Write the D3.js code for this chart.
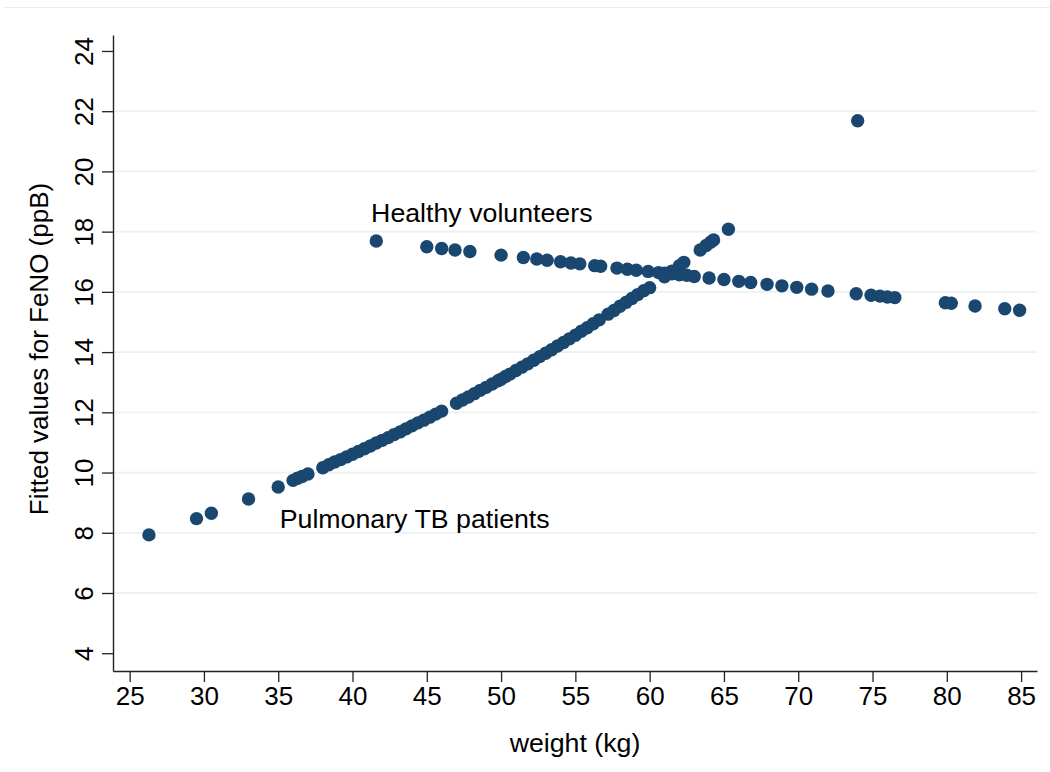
<!DOCTYPE html>
<meta charset="utf-8">
<html>
  <head>
    <style>
      body { margin: 0; background: #fff; }
      text { font-family: "Liberation Sans", Arial, sans-serif; fill: #000; }
    </style>
    <script src="https://d3js.org/d3.v7.min.js"></script>
  </head>
  <body>
<div id="my_dataviz"></div>
<script>

// Fitted FeNO values by weight
var tbWeight = [26.3, 29.5, 30.5, 33, 35, 36, 36.3, 36.6, 37, 38, 38.4, 38.8, 39.2, 39.6, 40, 40.4, 40.8, 41.2, 41.6,
  42, 42.4, 42.8, 43.2, 43.6, 44, 44.4, 44.8, 45.2, 45.6, 46, 47, 47.4, 47.8, 48.2, 48.6, 49, 49.4, 49.8, 50, 50.3,
  50.6, 51, 51.4, 51.8, 52.2, 52.6, 53, 53.4, 53.8, 54.2, 54.6, 55, 55.4, 55.8, 56.2, 56.6, 57.2, 57.6, 58, 58.4,
  58.8, 59.2, 59.6, 60, 61, 61.5, 62, 62.3, 63.4, 63.8, 64.1, 64.3, 65.3, 74]
var tbFeno = [7.93, 8.47, 8.65, 9.12, 9.52, 9.74, 9.81, 9.87, 9.95, 10.16, 10.26, 10.35, 10.43, 10.52, 10.61, 10.70, 10.79, 10.88, 10.98,
  11.07, 11.16, 11.26, 11.35, 11.45, 11.55, 11.65, 11.74, 11.84, 11.94, 12.04, 12.30, 12.41, 12.51, 12.62, 12.73, 12.83, 12.94, 13.05, 13.10, 13.19,
  13.27, 13.39, 13.50, 13.61, 13.73, 13.85, 13.96, 14.08, 14.20, 14.32, 14.44, 14.56, 14.69, 14.81, 14.94, 15.07, 15.26, 15.38, 15.52, 15.65,
  15.78, 15.91, 16.04, 16.14, 16.50, 16.69, 16.87, 16.98, 17.39, 17.54, 17.65, 17.72, 18.08, 21.68]

var hvWeight = [41.6, 45, 46, 46.9, 47.9, 50, 51.5, 52.4, 53.1, 54, 54.7, 55.3, 56.3, 56.7, 57.8, 58.5, 59.1, 59.9,
  60.6, 61, 61.5, 62, 62.5, 63, 64, 65, 66, 66.8, 67.9, 68.9, 69.9, 70.9, 72, 73.9, 74.9, 75.5, 76, 76.5,
  79.9, 80.3, 81.9, 83.9, 84.9]
var hvFeno = [17.69, 17.50, 17.44, 17.39, 17.34, 17.22, 17.14, 17.09, 17.05, 17.00, 16.96, 16.93, 16.87, 16.85, 16.79, 16.75, 16.72, 16.68,
  16.64, 16.62, 16.60, 16.57, 16.55, 16.51, 16.46, 16.41, 16.35, 16.31, 16.25, 16.20, 16.15, 16.09, 16.03, 15.94, 15.89, 15.86, 15.83, 15.81,
  15.64, 15.62, 15.53, 15.44, 15.39]

var xTicks = [25, 30, 35, 40, 45, 50, 55, 60, 65, 70, 75, 80, 85]
var yTicks = [4, 6, 8, 10, 12, 14, 16, 18, 20, 22, 24]
var gridTicks = [6, 8, 10, 12, 14, 16, 18, 20, 22]

var labels = [
  {text: "Healthy volunteers", x: 41.25, y: 18.32},
  {text: "Pulmonary TB patients", x: 35.1, y: 8.16}
]

var W = 1050, H = 772
var margin = {top: 35, right: 13, bottom: 101, left: 113},
  width = W - margin.left - margin.right,
  height = H - margin.top - margin.bottom

var svg = d3.select("#my_dataviz")
  .append("svg")
  .attr("width", W)
  .attr("height", H)

// faint frame line at the top of the picture
svg.append("line")
  .attr("x1", 4).attr("x2", W).attr("y1", 7.5).attr("y2", 7.5)
  .style("stroke", "#eeeeee").style("stroke-width", 1)

var g = svg.append("g")
  .attr("transform", "translate(" + margin.left + "," + margin.top + ")")

var x = d3.scaleLinear().domain([23.88, 86.07]).range([0, width])
var y = d3.scaleLinear().domain([3.41, 24.53]).range([height, 0])

// grid lines
g.selectAll(".grid")
  .data(gridTicks)
  .enter()
  .append("line")
  .attr("x1", 0).attr("x2", width)
  .attr("y1", function(d) { return y(d) })
  .attr("y2", function(d) { return y(d) })
  .style("stroke", "#eaf2f3")
  .style("stroke-width", 1.8)

// axes
var xAxis = g.append("g")
  .attr("transform", "translate(0," + height + ")")
  .call(d3.axisBottom(x).tickValues(xTicks).tickSize(11).tickPadding(5).tickSizeOuter(0))
var yAxis = g.append("g")
  .call(d3.axisLeft(y).tickValues(yTicks).tickSize(11).tickSizeOuter(0))

xAxis.select(".domain").style("stroke", "#222").style("stroke-width", 1.4)
yAxis.select(".domain").style("stroke", "#222").style("stroke-width", 1.4)
xAxis.selectAll(".tick line").style("stroke", "#222").style("stroke-width", 1.3)
yAxis.selectAll(".tick line").style("stroke", "#222").style("stroke-width", 1.3)

xAxis.selectAll("text")
  .style("font-size", "25px")
  .style("font-family", "Liberation Sans, Arial, sans-serif")
  .attr("fill", "#000")
  .attr("transform", "scale(1.04,1)")

yAxis.selectAll("text")
  .style("font-size", "25px")
  .style("font-family", "Liberation Sans, Arial, sans-serif")
  .attr("fill", "#000")
  .attr("x", 0)
  .attr("dy", 0)
  .attr("transform", "translate(-20,0) rotate(-90) scale(1.04,1)")
  .style("text-anchor", "middle")

// axis titles
svg.append("text")
  .attr("transform", "translate(575,752) scale(1.07,1)")
  .attr("text-anchor", "middle")
  .style("font-size", "25px")
  .text("weight (kg)")

svg.append("text")
  .attr("transform", "translate(48,349) rotate(-90) scale(1.04,1)")
  .attr("text-anchor", "middle")
  .style("font-size", "25px")
  .text("Fitted values for FeNO (ppB)")

// points
var points = []
tbWeight.forEach(function(w, i) { points.push({w: w, v: tbFeno[i]}) })
hvWeight.forEach(function(w, i) { points.push({w: w, v: hvFeno[i]}) })

g.selectAll(".pt")
  .data(points)
  .enter()
  .append("circle")
  .attr("cx", function(d) { return x(d.w) })
  .attr("cy", function(d) { return y(d.v) })
  .attr("r", 6.7)
  .style("fill", "#1a476f")

// text labels
g.selectAll(".lbl")
  .data(labels)
  .enter()
  .append("text")
  .attr("transform", function(d) { return "translate(" + x(d.x) + "," + y(d.y) + ") scale(1.07,1)" })
  .style("font-size", "25px")
  .text(function(d) { return d.text })

</script>
</body>
</html>
